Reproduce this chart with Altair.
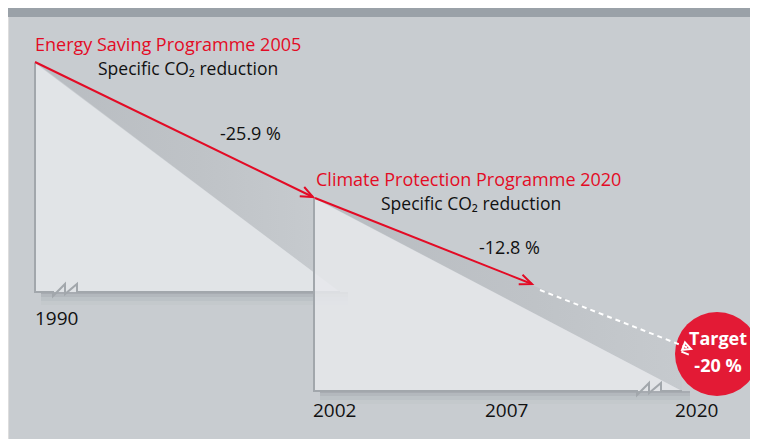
import altair as alt
import pandas as pd
import numpy as np

# ---------------- values shown in the graphic ----------------
years = ["1990", "2002", "2007", "2020"]
programmes = ["Energy Saving Programme 2005", "Climate Protection Programme 2020"]
subtitle = "Specific CO\u2082 reduction"
reductions = ["-25.9 %", "-12.8 %"]
target_lines = ["Target", "-20 %"]

# ---------------- schematic diagram units ----------------
year_pos = [35, 313, 485, 675]
year_base = [325, 417, 417, 417]

tri_x0 = [35, 314]
tri_x1 = [340, 682]
tri_top = [63, 198]
tri_base = [292, 391]

arrow1 = [(35, 62), (313, 197)]
arrow2 = [(315, 198), (532, 284)]
dashed = [(540, 290), (691, 349)]

target_center = (717, 354)

RED = "#e30b25"
CIRCLE_RED = "#e31a35"
BG = "#c8ccd0"
BANNER = "#9aa1a8"
TRI = "#e1e4e7"
EDGE = "#a2a7ac"
FONT = "Open Sans"

W, H = 742, 431
X0, Y0 = 8, 8
xs = alt.Scale(domain=[X0, X0 + W], nice=False, zero=False)
ys = alt.Scale(domain=[Y0, Y0 + H], nice=False, zero=False, reverse=True)


def enc_xy(extra=None):
    d = dict(x=alt.X("x:Q", scale=xs, axis=None), y=alt.Y("y:Q", scale=ys, axis=None))
    if extra:
        d.update(extra)
    return d


layers = []

# banner
banner = pd.DataFrame({"x": [X0], "x2": [X0 + W], "y": [Y0], "y2": [17]})
layers.append(alt.Chart(banner).mark_rect(color=BANNER).encode(**enc_xy({"x2": "x2:Q", "y2": "y2:Q"})))

# soft shadows under the bases
for i in range(2):
    for k, (dy, op) in enumerate([(2, 0.3), (5, 0.2), (9, 0.12), (13, 0.06)]):
        sh = pd.DataFrame({"x": [tri_x0[i] + 6], "x2": [tri_x1[i] + 8],
                           "y": [tri_base[i]], "y2": [tri_base[i] + dy]})
        layers.append(alt.Chart(sh).mark_rect(color="#8e9399", opacity=op).encode(
            **enc_xy({"x2": "x2:Q", "y2": "y2:Q"})))


def interp(p0, p1, x):
    return p0[1] + (p1[1] - p0[1]) * (x - p0[0]) / (p1[0] - p0[0])


wedge_grad = alt.Gradient(
    gradient="linear", x1=0, x2=1, y1=0, y2=0,
    stops=[alt.GradientStop(color="#b8bcc1", offset=0),
           alt.GradientStop(color="#bfc3c7", offset=0.6),
           alt.GradientStop(color="#c6cace", offset=1)])

for i in range(2):
    if i == 0:
        a0, a1 = arrow1
        xe = arrow1[1][0]
    else:
        a0, a1 = arrow2[0], dashed[1]
        xe = tri_x1[1]
    hyp0, hyp1 = (tri_x0[i], tri_top[i]), (tri_x1[i], tri_base[i])
    wd = pd.DataFrame({"x": [a0[0], xe],
                       "y": [a0[1], interp(a0, a1, xe)],
                       "y2": [a0[1], interp(hyp0, hyp1, xe)]})
    layers.append(alt.Chart(wd).mark_area(color=wedge_grad).encode(**enc_xy({"y2": "y2:Q"})))

    t = pd.DataFrame({"x": [tri_x0[i], tri_x1[i]], "y": [tri_top[i], tri_base[i]],
                      "y2": [tri_base[i], tri_base[i]]})
    layers.append(alt.Chart(t).mark_area(color=TRI if i == 0 else "#e6e8eb",
                                         opacity=1 if i == 0 else 0.85).encode(**enc_xy({"y2": "y2:Q"})))

    bx = tri_x0[i] + (18 if i == 0 else 323)
    b = tri_base[i]
    pts = [(tri_x0[i], tri_top[i]), (tri_x0[i], b), (bx, b), (bx, b + 4), (bx + 12, b - 8),
           (bx + 12, b + 2), (bx + 24, b - 8), (bx + 24, b), (tri_x1[i], b)]
    e = pd.DataFrame({"x": [p[0] for p in pts], "y": [p[1] for p in pts], "o": range(len(pts))})
    layers.append(alt.Chart(e).mark_line(color=EDGE, strokeWidth=2, strokeJoin="miter").encode(
        **enc_xy({"order": "o:Q"})))


def arrow_layers(p0, p1, color, dash=None, head="open"):
    out = []
    df = pd.DataFrame({"x": [p0[0], p1[0]], "y": [p0[1], p1[1]]})
    kw = dict(color=color, strokeWidth=2)
    if dash:
        kw["strokeDash"] = dash
    out.append(alt.Chart(df).mark_line(**kw).encode(**enc_xy()))
    ang = float(np.degrees(np.arctan2(p1[1] - p0[1], p1[0] - p0[0])))
    path = "M -1 -0.42 L 0 0 L -1 0.42" if head == "open" else "M -1 -0.5 L 0 0 L -1 0.5 Z M -1 0.75 L 0 0.75"
    hd = pd.DataFrame({"x": [p1[0]], "y": [p1[1]]})
    out.append(alt.Chart(hd).mark_point(shape=path, filled=False, stroke=color, strokeWidth=2,
                                         size=600 if head == "open" else 256, angle=ang % 360,
                                         opacity=1).encode(**enc_xy()))
    return out


layers += arrow_layers(*arrow1, RED)
layers += arrow_layers(*arrow2, RED)

circ = pd.DataFrame({"x": [target_center[0]], "y": [target_center[1]]})
layers.append(alt.Chart(circ).mark_circle(size=84 * 84, color=CIRCLE_RED, opacity=1).encode(**enc_xy()))

layers += arrow_layers(dashed[0], dashed[1], "white", dash=[5, 4], head="closed")


def text_layer(df, **kw):
    base = dict(font=FONT, baseline="alphabetic", align="left")
    base.update(kw)
    return alt.Chart(df).mark_text(**base).encode(**enc_xy({"text": "t:N"}))


layers.append(text_layer(pd.DataFrame({"x": [35, 316], "y": [51, 186], "t": programmes}),
                         color=RED, fontSize=18))
layers.append(text_layer(pd.DataFrame({"x": [98, 381], "y": [75, 210], "t": [subtitle, subtitle]}),
                         color="#111111", fontSize=17.5))
layers.append(text_layer(pd.DataFrame({"x": [220, 479], "y": [140, 254], "t": reductions}),
                         color="#111111", fontSize=18))
layers.append(text_layer(pd.DataFrame({"x": year_pos, "y": year_base, "t": years}),
                         color="#111111", fontSize=19))
layers.append(text_layer(pd.DataFrame({"x": [target_center[0] + 1] * 2, "y": [345, 372], "t": target_lines}),
                         color="white", fontSize=18, fontWeight="bold", align="center"))

chart = alt.layer(*layers).properties(
    width=W, height=H, autosize=alt.AutoSizeParams(type="none"), padding=0
).configure_view(strokeWidth=0).configure(background=BG)

chart.save("out.html", embed_options={"renderer": "svg", "actions": False})
